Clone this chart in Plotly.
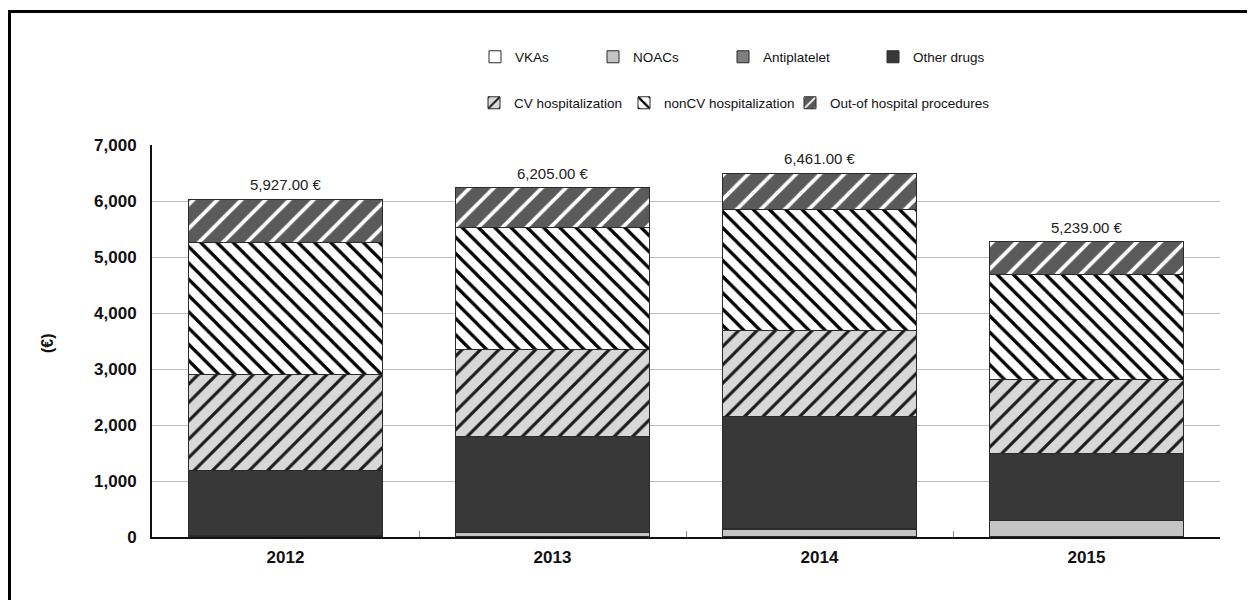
import plotly.graph_objects as go

years = ["2012", "2013", "2014", "2015"]
vkas = [12, 10, 8, 6]
noacs = [0, 67, 129, 285]
antiplatelet = [8, 8, 6, 5]
other_drugs = [1164, 1706, 2005, 1198]
cv_hosp = [1721, 1566, 1536, 1322]
noncv_hosp = [2357, 2166, 2173, 1875]
out_hosp = [768, 714, 638, 582]
total_labels = ["5,927.00 €", "6,205.00 €", "6,461.00 €", "5,239.00 €"]
y_ticks = [0, 1000, 2000, 3000, 4000, 5000, 6000, 7000]

FONT = "Liberation Sans, Arial, sans-serif"

# page shows the figure offset by 8px (body margin); geometry below is in figure px
W, H = 1247, 592
L, R, T, B = 144, 35, 137, 63
PW = W - L - R
PH = H - T - B
OFF = 8


def px_x(px):  # px given in screenshot coordinates
    return (px - OFF - L) / PW


def px_y(py):
    return (H - B - (py - OFF)) / PH


series = [
    ("VKAs", vkas, dict(color="#ffffff"), "legend", 475, 57),
    ("NOACs", noacs, dict(color="#c4c4c4"), "legend2", 593, 57),
    ("Antiplatelet", antiplatelet, dict(color="#7f7f7f"), "legend3", 723, 57),
    ("Other drugs", other_drugs, dict(color="#383838"), "legend4", 873, 57),
    ("CV hospitalization", cv_hosp,
     dict(color="#d8d8d8", pattern=dict(shape="/", fgcolor="#1a1a1a", bgcolor="#d8d8d8",
                                         fillmode="replace", size=13, solidity=0.24)),
     "legend5", 474, 103),
    ("nonCV hospitalization", noncv_hosp,
     dict(color="#ffffff", pattern=dict(shape="\\", fgcolor="#000000", bgcolor="#ffffff",
                                         fillmode="replace", size=11.5, solidity=0.28)),
     "legend6", 624, 103),
    ("Out-of hospital procedures", out_hosp,
     dict(color="#5a5a5a", pattern=dict(shape="/", fgcolor="#ffffff", bgcolor="#5a5a5a",
                                         fillmode="replace", size=17, solidity=0.22)),
     "legend7", 790, 103),
]

fig = go.Figure()
for name, vals, mk, lg, lx, ly in series:
    marker = dict(mk)
    marker["line"] = dict(color="#2a2a2a", width=1)
    fig.add_trace(go.Bar(x=years, y=vals, name=name, marker=marker, legend=lg))

totals = [sum(v) for v in zip(vkas, noacs, antiplatelet, other_drugs, cv_hosp, noncv_hosp, out_hosp)]
for i, (tot, lab) in enumerate(zip(totals, total_labels)):
    fig.add_annotation(x=i, y=tot, text=lab, showarrow=False, yanchor="bottom", yshift=4,
                       font=dict(size=15, color="#222", family=FONT))

# y-axis title
fig.add_annotation(xref="paper", yref="paper", x=px_x(47), y=px_y(343), text="(€)",
                   xanchor="center", yanchor="middle",
                   textangle=-90, showarrow=False,
                   font=dict(size=16, color="#111", family=FONT, weight="bold"))

# outer frame
fig.add_shape(type="rect", xref="paper", yref="paper",
              x0=px_x(9.5), x1=px_x(1250), y0=px_y(615), y1=px_y(11.5),
              line=dict(color="black", width=3), fillcolor="rgba(0,0,0,0)")

legend_layout = {}
for name, vals, mk, lg, lx, ly in series:
    legend_layout[lg] = dict(x=px_x(lx), xanchor="left", y=px_y(ly), yanchor="middle",
                             orientation="h", bgcolor="rgba(0,0,0,0)",
                             font=dict(size=13.5, color="#111", family=FONT))

fig.update_layout(
    width=W, height=H,
    margin=dict(l=L, r=R, t=T, b=B),
    barmode="stack", bargap=0.277,
    plot_bgcolor="white", paper_bgcolor="white",
    font=dict(family=FONT, color="#111"),
    showlegend=True,
    xaxis=dict(type="category", showline=True, linecolor="#111", linewidth=2,
               ticks="inside", tickson="boundaries", ticklen=6, tickcolor="#888",
               tickfont=dict(size=17, family=FONT, color="#111", weight="bold"),
               ticklabelstandoff=4, showgrid=False),
    yaxis=dict(range=[0, 7000], tickvals=y_ticks, tickformat=",d",
               showline=True, linecolor="#111", linewidth=2,
               showgrid=True, gridcolor="#bdbdbd", gridwidth=1,
               ticks="", tickfont=dict(size=17, family=FONT, color="#111", weight="bold"),
               ticklabelstandoff=10, zeroline=False),
    **legend_layout,
)

fig.write_html("out.html")
